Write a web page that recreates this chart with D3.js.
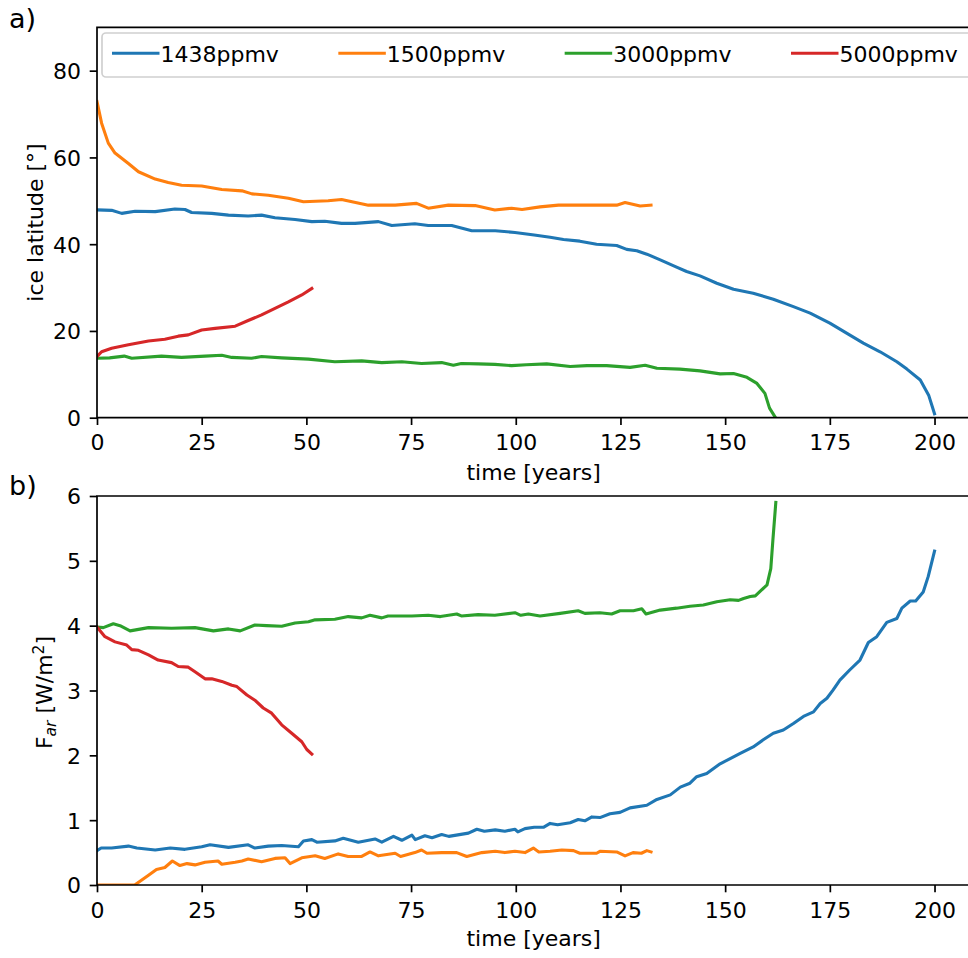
<!DOCTYPE html>
<html>
<head>
<meta charset="utf-8">
<script src="https://cdn.jsdelivr.net/npm/d3@7"></script>
<style>
  html, body { margin: 0; padding: 0; background: #fff; overflow: hidden; }
  svg { display: block; font-family: "DejaVu Sans", sans-serif; }
</style>
</head>
<body>
<svg id="chart" width="968" height="958"></svg>
<script>
// Run labels (CO2 concentration) and their line colours
const runs = ["1438ppmv", "1500ppmv", "3000ppmv", "5000ppmv"];
const runColors = ["#1f77b4", "#ff7f0e", "#2ca02c", "#d62728"];

// Tick values
const xTicks = [0, 25, 50, 75, 100, 125, 150, 175, 200];
const latTicks = [0, 20, 40, 60, 80];
const farTicks = [0, 1, 2, 3, 4, 5, 6];

// Panel a: ice-edge latitude [deg] as [year, value]
const lat1438 = [[0,47.9],[3.5,47.8],[5.9,47.1],[9.1,47.6],[13.9,47.5],[18.6,48.1],[21,48.0],[22.6,47.3],[27.4,47.1],[31.4,46.7],[36.1,46.5],[39.3,46.7],[42.5,46.1],[47.3,45.7],[51.3,45.2],[54.4,45.3],[58.4,44.8],[61.6,44.8],[67.2,45.2],[70.4,44.3],[75.9,44.7],[79.1,44.3],[84.7,44.3],[89.5,43.1],[95.1,43.1],[99.8,42.7],[104.4,42.1],[108.2,41.6],[111.4,41.1],[115.3,40.7],[119.3,40.0],[124.1,39.7],[126.5,38.8],[128.9,38.5],[131.3,37.7],[134.5,36.4],[138.4,34.7],[140.8,33.7],[144,32.7],[148,31.0],[152,29.6],[156.7,28.7],[161.5,27.3],[166.3,25.6],[170.3,24.1],[175,21.8],[179,19.5],[183,17.2],[187,15.2],[191,12.9],[193.4,11.2],[196.6,8.7],[198.6,5.2],[200,0.9]];
const lat1500 = [[0,72.9],[1.1,67.9],[2.7,63.3],[4.3,61.0],[7.5,58.6],[9.9,56.7],[13.9,55.0],[17,54.2],[20.2,53.6],[25,53.4],[29.8,52.6],[34.6,52.3],[37,51.6],[40.9,51.3],[45.7,50.6],[49.3,49.8],[55.2,50.0],[58.4,50.3],[64.8,49.0],[71.2,49.0],[76.3,49.4],[79.1,48.3],[83.9,49.0],[90.3,48.9],[95,47.9],[99,48.3],[101.5,48.0],[105.8,48.6],[110.2,49.0],[115.3,49.0],[120.1,49.0],[124.1,49.0],[126.1,49.6],[129.7,48.8],[132.3,49.0]];
const lat3000 = [[0,13.7],[3,13.8],[6.5,14.2],[8.3,13.7],[15.4,14.2],[20.2,13.9],[25.8,14.2],[29.8,14.4],[32.2,13.9],[36.9,13.7],[39.3,14.1],[44.1,13.8],[50.5,13.5],[56.8,12.9],[63.2,13.1],[68,12.7],[72.8,12.9],[77.5,12.5],[82.3,12.7],[85.1,12.1],[87,12.5],[91,12.4],[95,12.3],[99,12.0],[102.5,12.2],[107.4,12.4],[113,11.8],[117,12.0],[121.7,12.0],[127.3,11.6],[130.9,12.1],[133.7,11.4],[139.2,11.2],[144,10.8],[148.8,10.1],[152,10.2],[155.2,9.3],[157.6,7.9],[159.5,5.6],[160.6,2.2],[161.9,0.2]];
const lat5000 = [[0,14.1],[1.1,15.2],[3.5,16.0],[7.5,16.8],[12.3,17.7],[16.2,18.1],[19.4,18.8],[21.8,19.1],[25,20.2],[28.2,20.6],[33,21.1],[36.1,22.4],[39.3,23.7],[42.5,25.2],[45.7,26.7],[48.9,28.3],[51.3,29.8]];

// Panel b: F_ar [W/m^2] as [year, value]
const far1438 = [[0,0.53],[1,0.57],[3.5,0.57],[7.5,0.60],[9.5,0.57],[13.9,0.54],[17.5,0.57],[21,0.55],[25,0.59],[27,0.62],[31.4,0.58],[36.1,0.62],[37.7,0.57],[40.9,0.60],[44.1,0.61],[48.1,0.59],[49.3,0.68],[51.3,0.70],[52.5,0.66],[56.8,0.68],[58.8,0.72],[62.4,0.66],[66.4,0.71],[68,0.66],[70.8,0.75],[72.8,0.69],[75.2,0.77],[76,0.70],[78.3,0.76],[80,0.73],[82.3,0.78],[84,0.75],[88.7,0.80],[90.7,0.86],[92.5,0.83],[95.1,0.85],[97.4,0.83],[99.8,0.86],[100.5,0.82],[102.2,0.87],[104.4,0.89],[106.6,0.89],[108.2,0.95],[110,0.93],[113,0.96],[114.9,1.01],[116.5,0.99],[118.2,1.05],[120.1,1.04],[122.5,1.10],[124.9,1.12],[127.3,1.19],[131.3,1.23],[133.7,1.32],[136.9,1.39],[139.3,1.51],[141.6,1.57],[143.2,1.67],[145.6,1.72],[148.8,1.87],[151.2,1.95],[153.6,2.03],[156.7,2.13],[159.1,2.24],[161.5,2.34],[163.9,2.39],[166.3,2.49],[168.7,2.60],[171.1,2.67],[172.7,2.80],[174.3,2.88],[175.8,3.01],[177.4,3.16],[179.8,3.32],[182.2,3.47],[184.2,3.74],[186.2,3.83],[188.6,4.05],[191,4.11],[192.2,4.27],[194.2,4.38],[195.5,4.38],[197.3,4.52],[198.5,4.76],[200,5.15]];
const far1500 = [[0,0],[9,0],[12.3,0.15],[14.2,0.24],[16.2,0.27],[18,0.37],[19.8,0.30],[21.5,0.33],[23.4,0.31],[25.8,0.35],[28.9,0.37],[29.8,0.32],[33,0.35],[34.6,0.37],[36.1,0.40],[39.3,0.36],[42.5,0.41],[44.9,0.42],[46.1,0.33],[48.9,0.42],[52.1,0.45],[54.4,0.41],[57.6,0.48],[60,0.44],[63.2,0.44],[65.2,0.51],[67.2,0.45],[71.2,0.49],[72.5,0.44],[75.9,0.50],[77.5,0.54],[78.8,0.49],[82.3,0.50],[85.9,0.50],[88.3,0.44],[91.9,0.50],[95.1,0.52],[97.4,0.50],[99.8,0.52],[102.2,0.50],[104.2,0.57],[105.5,0.51],[108.2,0.52],[111,0.54],[113.8,0.53],[115.3,0.49],[119.3,0.49],[120.1,0.52],[124.1,0.51],[126.1,0.45],[128,0.50],[130,0.49],[131.3,0.53],[132.3,0.51]];
const far3000 = [[0,3.98],[1.5,3.97],[3.9,4.03],[5.5,4.0],[7.9,3.92],[12.3,3.97],[17.8,3.96],[23.4,3.97],[27.8,3.92],[31.4,3.95],[34.2,3.92],[37.7,4.01],[40.5,4.0],[44.1,3.99],[47.3,4.04],[50.5,4.06],[52.1,4.09],[56.8,4.10],[60,4.14],[63.2,4.12],[65.2,4.16],[68,4.12],[69.5,4.15],[75.2,4.15],[79.1,4.16],[82,4.14],[85.9,4.18],[87,4.15],[91,4.17],[95,4.16],[99.8,4.2],[101.2,4.16],[103,4.18],[105.8,4.15],[110.6,4.19],[114.9,4.23],[116.5,4.19],[120.1,4.2],[122.9,4.18],[124.9,4.23],[128.1,4.23],[130.1,4.26],[131.1,4.18],[134.5,4.24],[138.4,4.27],[141.6,4.3],[144.8,4.32],[148,4.37],[151.2,4.4],[153.2,4.39],[154.4,4.42],[156,4.45],[157.2,4.46],[160,4.63],[160.9,4.88],[161.4,5.32],[162.1,5.9]];
const far5000 = [[0,3.98],[1.9,3.83],[4.3,3.75],[7.1,3.70],[8.3,3.63],[9.9,3.62],[12.3,3.55],[14.6,3.47],[17.8,3.43],[19.4,3.37],[21.8,3.36],[23.4,3.29],[25.8,3.18],[27.4,3.18],[29.8,3.14],[32.2,3.08],[33.4,3.06],[35.8,2.93],[37.7,2.85],[39.7,2.73],[41.7,2.65],[44.1,2.47],[46.5,2.34],[48.9,2.21],[50.1,2.09],[51.3,2.02]];

const svg = d3.select("#chart");
const FONT = 22;

const x = d3.scaleLinear().domain([0, 210]).range([97, 976.4]);

const panels = [
  { id: "a", tag: "a)", tagY: 28, series: [lat1438, lat1500, lat3000, lat5000],
    y: d3.scaleLinear().domain([0, 90]).range([417.7, 27.3]), ticks: latTicks,
    xlabY: 480, legend: true },
  { id: "b", tag: "b)", tagY: 495, series: [far1438, far1500, far3000, far5000],
    y: d3.scaleLinear().domain([0, 6]).range([885, 496]), ticks: farTicks,
    xlabY: 946, legend: false }
];

panels.forEach(p => {
  const [y0, y1] = p.y.range();
  const [x0, x1] = x.range();
  const g = svg.append("g");

  g.append("clipPath").attr("id", "clip-" + p.id)
    .append("rect").attr("x", x0).attr("y", y1).attr("width", x1 - x0).attr("height", y0 - y1);

  const line = d3.line().x(d => x(d[0])).y(d => p.y(d[1]));
  const lines = g.append("g").attr("clip-path", `url(#clip-${p.id})`);
  p.series.forEach((s, i) => {
    lines.append("path").datum(s)
      .attr("d", line)
      .attr("fill", "none")
      .attr("stroke", runColors[i])
      .attr("stroke-width", 3.1)
      .attr("stroke-linejoin", "round")
      .attr("stroke-linecap", "square");
  });

  // axes
  const xAxis = d3.axisBottom(x).tickValues(xTicks).tickSize(7.3).tickPadding(5).tickFormat(d3.format("d"));
  const yAxis = d3.axisLeft(p.y).tickValues(p.ticks).tickSize(7.3).tickPadding(5).tickFormat(d3.format("d"));

  const gx = g.append("g").attr("transform", `translate(0,${y0})`).call(xAxis);
  const gy = g.append("g").attr("transform", `translate(${x0},0)`).call(yAxis);
  [gx, gy].forEach(ax => {
    ax.select(".domain").remove();
    ax.selectAll(".tick line").attr("stroke", "#000").attr("stroke-width", 1.7);
    ax.selectAll(".tick text").attr("font-size", FONT).attr("fill", "#000")
      .attr("font-family", "DejaVu Sans");
  });
  gx.selectAll(".tick text").attr("dy", null).attr("y", 32.8);
  gy.selectAll(".tick text").attr("dy", null).attr("y", 7.9).attr("x", -16);

  // spines: left, bottom, top (right lies beyond the canvas)
  g.append("path")
    .attr("d", `M${x1},${y1}H${x0}V${y0}H${x1}`)
    .attr("fill", "none").attr("stroke", "#000").attr("stroke-width", 1.7)
    .attr("stroke-linecap", "square");

  g.append("text").attr("x", (x0 + x1) / 2 - 3).attr("y", p.xlabY)
    .attr("text-anchor", "middle").attr("font-size", FONT).text("time [years]");

  g.append("text").attr("x", 9).attr("y", p.tagY)
    .attr("font-size", 27).text(p.tag);

  if (p.legend) {
    const lg = g.append("g");
    lg.append("rect").attr("x", 102).attr("y", 33).attr("width", 870).attr("height", 44)
      .attr("rx", 4).attr("fill", "#fff").attr("fill-opacity", 0.8)
      .attr("stroke", "#d0d0d0").attr("stroke-width", 1.7);
    const colX = d3.scaleLinear().domain([0, 3]).range([112, 791]);
    runs.forEach((r, i) => {
      const cx = colX(i);
      lg.append("line").attr("x1", cx).attr("x2", cx + 47.5).attr("y1", 53.3).attr("y2", 53.3)
        .attr("stroke", runColors[i]).attr("stroke-width", 3.1);
      lg.append("text").attr("x", cx + 48.5).attr("y", 61.5).attr("font-size", FONT).text(r);
    });
  }
});

// y-axis labels
const ya = panels[0].y.range();
svg.append("text")
  .attr("transform", `translate(43,${(ya[0] + ya[1]) / 2}) rotate(-90)`)
  .attr("text-anchor", "middle").attr("font-size", FONT).text("ice latitude [°]");

const yb = panels[1].y.range();
const lb = svg.append("text")
  .attr("transform", `translate(52,${(yb[0] + yb[1]) / 2 + 2}) rotate(-90)`)
  .attr("text-anchor", "middle").attr("font-size", FONT);
lb.append("tspan").text("F");
lb.append("tspan").attr("font-style", "italic").attr("font-size", 15.5).attr("dy", 4).text("ar");
lb.append("tspan").attr("dy", -4).text(" [W/m");
lb.append("tspan").attr("font-size", 15.5).attr("dy", -8).text("2");
lb.append("tspan").attr("dy", 8).text("]");
</script>
</body>
</html>
